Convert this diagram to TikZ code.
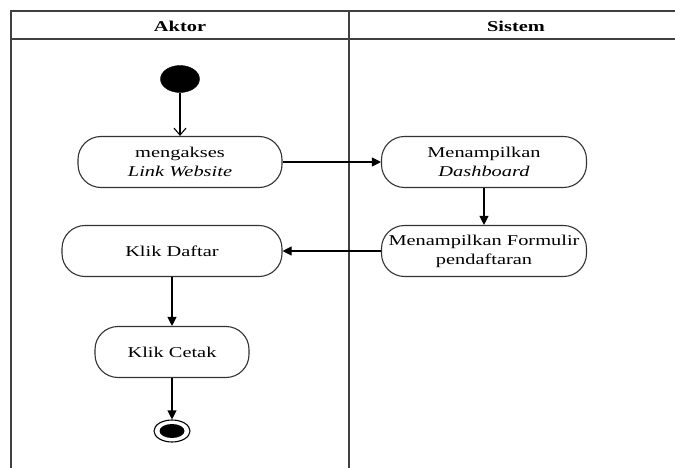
\documentclass[tikz,border=0pt]{standalone}
\usepackage{fontspec}
\setmainfont{Liberation Serif}[FakeStretch=1.36]
\usetikzlibrary{arrows.meta,shapes.geometric}
\begin{document}
\begin{tikzpicture}[x=1pt,y=-1pt,
  lane/.style={line width=1.3pt,draw=black!75},
  activity/.style={draw=black!80,line width=1.1pt,rounded corners=23pt,
    minimum height=51pt,align=center,inner sep=0pt,
    font=\fontsize{15}{19}\selectfont},
  flow/.style={line width=1.1pt,-{Triangle[length=9pt,width=9pt]}},
  startflow/.style={line width=1.1pt,-{Straight Barb[length=7pt,width=12pt]}},
  header/.style={font=\fontsize{15}{18}\selectfont\bfseries}]
\useasboundingbox (0,0) rectangle (675,468);

% swimlane frame
\draw[lane] (11,468) -- (11,11) -- (675,11);
\draw[lane] (11,39) -- (675,39);
\draw[lane] (349,11) -- (349,468);
\node[header] (aktor) at (180,26) {Aktor};
\node[header] (sistem) at (516,26) {Sistem};

% initial node
\node[ellipse,fill=black,draw=black,minimum width=39pt,minimum height=27pt,inner sep=0pt] (start) at (180,79) {};

% activities
\node[activity,minimum width=204pt] (akses) at (180,162) {mengakses\\\textit{Link Website}};
\node[activity,minimum width=205pt] (dash) at (484,162) {Menampilkan\\\textit{Dashboard}};
\node[activity,minimum width=205pt] (form) at (484,251) {Menampilkan Formulir\\pendaftaran};
\node[activity,minimum width=220pt] (daftar) at (172,251) {Klik Daftar};
\node[activity,minimum width=154pt] (cetak) at (172,352) {Klik Cetak};

% final node
\node[ellipse,draw=black,line width=1.1pt,minimum width=36pt,minimum height=22pt,inner sep=0pt] (end) at (172,431) {};
\node[ellipse,fill=black,minimum width=25pt,minimum height=14pt,inner sep=0pt] (endin) at (end.center) {};

% control flows
\draw[startflow] (start) -- (akses);
\draw[flow] (akses) -- (dash);
\draw[flow] (dash) -- (form);
\draw[flow] (form) -- (daftar);
\draw[flow] (daftar) -- (cetak);
\draw[flow] (cetak) -- (end);
\end{tikzpicture}
\end{document}
